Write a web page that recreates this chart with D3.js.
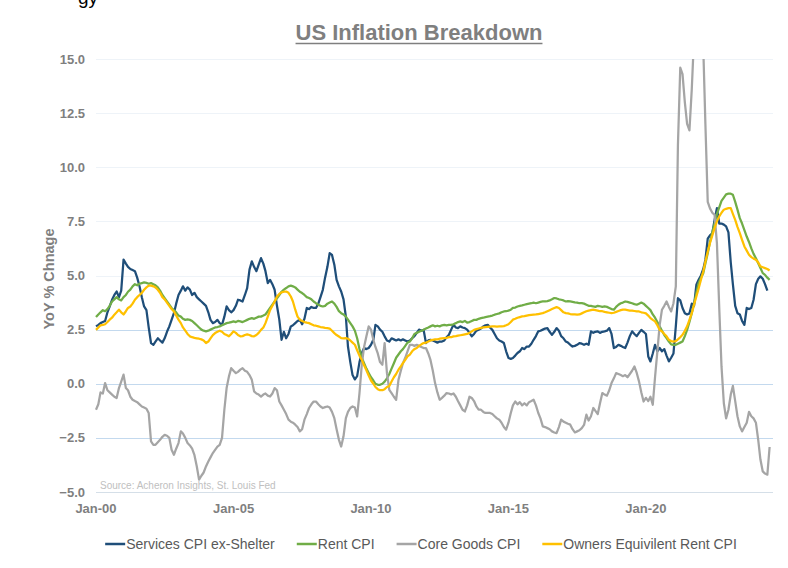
<!DOCTYPE html>
<html>
<head>
<meta charset="utf-8">
<script src="https://cdn.jsdelivr.net/npm/d3@7"></script>
<style>
  body { margin: 0; background: #fff; }
  svg { display: block; }
</style>
</head>
<body>
<div id="chart"></div>
<script>
// monthly YoY % change, Jan 2000 onward (one row per year)
var servicesExShelter = [
  2.65, 2.72, 2.8, 2.85, 2.9, 3.3, 3.57, 3.88, 4.1, 4.26, 4.0, 4.3,
  5.73, 5.55, 5.4, 5.3, 5.25, 5.2, 4.9, 4.5, 4.0, 3.57, 3.4, 2.6,
  1.88, 1.8, 1.95, 2.1, 2.0, 1.9, 2.1, 2.4, 2.65, 2.95, 3.26, 3.7,
  4.1, 4.3, 4.5, 4.3, 4.45, 4.35, 4.1, 4.2, 4.0, 3.9, 3.8, 3.7,
  3.6, 3.3, 2.95, 2.8, 2.85, 2.95, 2.8, 2.72, 3.1, 3.57, 3.4, 3.3,
  3.4, 3.6, 3.88, 3.85, 3.8, 4.1, 4.42, 5.27, 5.65, 5.4, 5.2, 5.5,
  5.8, 5.55, 5.2, 4.65, 4.8, 4.6, 4.34, 3.6, 2.96, 2.03, 2.4, 2.1,
  2.3, 2.65, 2.7, 2.8, 2.9, 2.96, 2.75, 3.0, 3.5, 3.45, 3.55, 3.5,
  3.5, 3.7, 4.0, 4.34, 4.9, 5.4, 6.03, 5.95, 5.5, 4.8, 4.5, 4.26,
  3.9, 3.1, 1.72, 1.0, 0.4, 0.2, 0.35, 1.0, 1.42, 1.65, 1.6, 1.65,
  1.8, 2.03, 2.72, 2.65, 2.5, 2.4, 2.19, 2.0, 1.95, 2.1, 2.05, 2.0,
  2.05, 2.0, 2.05, 2.0, 1.95, 2.0, 2.1, 2.2, 2.35, 2.5, 2.45, 2.49,
  1.88, 2.0, 2.03, 2.0, 1.95, 1.9, 1.95, 1.95, 2.0, 2.15, 2.26, 2.5,
  2.72, 2.6, 2.57, 2.65, 2.6, 2.57, 2.5, 2.35, 2.19, 2.3, 2.45, 2.5,
  2.55, 2.65, 2.7, 2.72, 2.6, 2.49, 2.3, 2.1, 2.0, 1.95, 1.88, 1.5,
  1.19, 1.15, 1.19, 1.3, 1.42, 1.5, 1.65, 1.6, 1.72, 1.72, 1.85, 2.03,
  2.2, 2.42, 2.45, 2.5, 2.55, 2.57, 2.4, 2.26, 2.4, 2.57, 2.45, 2.2,
  2.1, 1.95, 1.9, 1.8, 1.72, 1.75, 1.8, 1.88, 1.85, 1.8, 1.85, 1.8,
  2.42, 2.35, 2.4, 2.42, 2.35, 2.4, 2.42, 2.45, 2.57, 2.3, 1.65, 1.7,
  1.8, 1.75, 1.7, 1.65, 1.9, 2.2, 2.42, 2.3, 2.2, 2.35, 2.49, 2.4,
  2.3, 1.26, 1.03, 1.4, 1.8, 1.5, 1.65, 1.5, 1.6, 1.3, 1.03, 1.2,
  1.4, 2.65, 3.95, 3.85, 3.5, 3.26, 3.2, 3.25, 3.7, 3.6, 4.57, 4.8,
  5.0, 5.3, 5.73, 6.7, 6.85, 6.95, 7.57, 8.11, 7.4, 7.4, 7.35, 7.27,
  6.99, 5.6, 4.6, 3.6, 3.26, 3.2, 2.9, 2.72, 3.5, 3.45, 3.5, 3.88,
  4.6, 4.85, 4.96, 4.85, 4.6, 4.3
];

var rentCpi = [
  3.08, 3.2, 3.3, 3.4, 3.35, 3.45, 3.6, 3.8, 3.9, 4.0, 3.9, 3.85,
  4.0, 4.1, 4.25, 4.35, 4.5, 4.6, 4.55, 4.62, 4.65, 4.68, 4.66, 4.62,
  4.65, 4.6, 4.55, 4.45, 4.3, 4.1, 3.95, 3.8, 3.65, 3.5, 3.4, 3.3,
  3.15, 3.1, 3.0, 2.95, 2.97, 2.95, 2.9, 2.8, 2.7, 2.6, 2.5, 2.45,
  2.42, 2.45, 2.5, 2.55, 2.6, 2.62, 2.65, 2.7, 2.75, 2.8, 2.82, 2.85,
  2.88, 2.85, 2.9, 2.88, 2.85, 2.9, 2.95, 3.0, 3.03, 3.0, 3.05, 3.1,
  3.1, 3.15, 3.2, 3.35, 3.5, 3.65, 3.8, 3.95, 4.1, 4.25, 4.35, 4.42,
  4.5, 4.53, 4.5, 4.45, 4.35, 4.25, 4.19, 4.1, 4.0, 3.96, 3.9, 3.8,
  3.72, 3.65, 3.6, 3.57, 3.6, 3.7, 3.75, 3.8, 3.7, 3.55, 3.35, 3.26,
  3.2, 3.1, 2.96, 2.8, 2.65, 2.45, 2.1, 1.6, 1.2, 0.95, 0.7, 0.5,
  0.3, 0.15, 0.0, -0.05, -0.05, 0.0, 0.1, 0.25, 0.45, 0.7, 0.95, 1.2,
  1.35, 1.5, 1.6, 1.75, 1.9, 1.95, 2.1, 2.3, 2.35, 2.4, 2.45, 2.49,
  2.55, 2.6, 2.65, 2.7, 2.65, 2.68, 2.65, 2.7, 2.72, 2.7, 2.72, 2.72,
  2.75, 2.8, 2.85, 2.88, 2.85, 2.9, 2.82, 2.85, 2.9, 2.95, 2.95, 3.0,
  3.03, 3.05, 3.08, 3.1, 3.12, 3.15, 3.19, 3.22, 3.25, 3.3, 3.34, 3.35,
  3.38, 3.42, 3.5, 3.52, 3.57, 3.6, 3.62, 3.65, 3.68, 3.7, 3.72, 3.75,
  3.72, 3.75, 3.78, 3.8, 3.8, 3.82, 3.85, 3.9, 3.96, 3.94, 3.9, 3.88,
  3.85, 3.8, 3.82, 3.8, 3.78, 3.76, 3.75, 3.72, 3.72, 3.7, 3.65, 3.6,
  3.6, 3.57, 3.55, 3.6, 3.58, 3.55, 3.57, 3.55, 3.5, 3.45, 3.42, 3.55,
  3.65, 3.72, 3.75, 3.8, 3.78, 3.75, 3.72, 3.68, 3.65, 3.7, 3.75, 3.7,
  3.6, 3.5, 3.4, 3.2, 3.05, 2.85, 2.65, 2.45, 2.25, 2.11, 1.95, 1.82,
  1.8, 1.8, 1.85, 1.9, 1.95, 2.2, 2.49, 2.85, 3.26, 3.7, 4.19, 4.65,
  4.9, 5.11, 5.55, 6.03, 6.55, 7.0, 7.4, 7.85, 8.15, 8.45, 8.6, 8.75,
  8.78, 8.78, 8.73, 8.4, 8.04, 7.65, 7.4, 7.1, 6.8, 6.55, 6.25, 6.0,
  5.8, 5.57, 5.35, 5.11, 5.03, 4.9, 4.8
];

var coreGoodsCpi = [
  -1.2, -0.95, -0.4, -0.45, 0.03, -0.3, -0.4, -0.5, -0.6, -0.66, -0.2, 0.1,
  0.42, -0.2, -0.3, -0.6, -0.74, -0.8, -0.85, -0.95, -1.05, -1.1, -1.15, -1.35,
  -2.66, -2.82, -2.82, -2.7, -2.59, -2.45, -2.36, -2.4, -2.5, -3.05, -3.28, -3.0,
  -2.74, -2.2, -2.3, -2.5, -2.74, -2.85, -3.0, -3.3, -3.82, -4.43, -4.25, -4.1,
  -3.82, -3.59, -3.4, -3.2, -3.05, -2.9, -2.82, -2.5, -1.2, -0.2, 0.34, 0.72,
  0.6, 0.49, 0.55, 0.65, 0.72, 0.6, 0.55, 0.4, 0.18, -0.35, -0.45, -0.5,
  -0.59, -0.5, -0.45, -0.55, -0.59, -0.45, -0.2, -0.3, -0.82, -1.0, -1.2, -1.4,
  -1.66, -1.75, -1.8, -1.89, -2.0, -2.2, -2.1, -1.66, -1.4, -1.12, -0.95, -0.82,
  -0.82, -0.95, -1.05, -1.12, -1.08, -1.05, -1.1, -1.3, -1.59, -2.1, -2.59, -2.9,
  -2.43, -1.59, -1.3, -1.12, -1.05, -1.1, -1.51, -0.43, 0.9, 1.7, 2.19, 2.65,
  2.5, 2.03, 1.7, 1.4, 1.0, 0.88, 1.88, 0.49, -0.28, -0.43, -0.6, -0.74,
  0.18, 0.6, 0.95, 1.2, 1.5, 1.8, 1.8, 1.75, 1.8, 1.75, 1.7, 1.65,
  1.65, 1.4, 1.1, 0.6, 0.03, -0.4, -0.74, -0.65, -0.55, -0.43, -0.45, -0.5,
  -0.45, -0.6, -0.8, -1.0, -1.2, -1.28, -1.0, -0.6, -0.66, -0.8, -1.05, -1.2,
  -1.2, -1.3, -1.35, -1.35, -1.35, -1.4, -1.5, -1.6, -1.66, -1.8, -2.0, -2.12,
  -1.8, -1.35, -1.0, -0.82, -0.95, -0.85, -1.0, -0.9, -1.0, -0.85, -0.8, -0.74,
  -1.0, -1.35, -1.6, -1.97, -2.0, -2.05, -2.1, -2.2, -2.25, -2.28, -2.0, -1.66,
  -1.75, -1.8, -1.85, -1.89, -2.1, -2.25, -2.2, -2.15, -2.05, -1.9, -1.43, -1.7,
  -1.5, -1.12, -1.25, -1.4, -0.9, -0.43, -0.5, -0.55, -0.3, 0.03, 0.25, 0.49,
  0.45, 0.4, 0.35, 0.4, 0.3, 0.45, 0.6, 0.8, 0.5, 0.11, -0.4, -0.82,
  -0.65, -0.8, -0.6, -0.97, 0.3, 1.5, 2.7, 3.42, 3.6, 3.8, 3.55, 3.34,
  3.72, 4.5, 11.0, 14.6, 14.3, 13.0, 12.0, 11.7, 13.6, 16.0, 17.5, 18.0,
  17.5, 15.5, 12.0, 8.4, 8.1, 7.9, 7.8, 6.5, 3.5, 0.8, -0.9, -1.6,
  -1.2, -0.5, -0.1, -0.8, -1.5, -1.97, -2.2, -2.0, -1.8, -1.3, -1.5, -1.6,
  -1.8, -2.6, -3.5, -4.05, -4.15, -4.2, -2.92
];

var ownersEquivRent = [
  2.49, 2.6, 2.7, 2.72, 2.75, 2.85, 2.96, 3.05, 3.19, 3.3, 3.42, 3.3,
  3.2, 3.35, 3.5, 3.57, 3.7, 3.88, 4.0, 4.1, 4.2, 4.34, 4.45, 4.53,
  4.53, 4.5, 4.45, 4.34, 4.2, 4.0, 3.9, 3.75, 3.6, 3.45, 3.34, 3.15,
  2.96, 2.8, 2.6, 2.45, 2.3, 2.19, 2.15, 2.12, 2.1, 2.08, 2.05, 2.0,
  1.88, 1.95, 2.1, 2.25, 2.34, 2.4, 2.45, 2.4, 2.3, 2.25, 2.19, 2.3,
  2.42, 2.35, 2.25, 2.19, 2.2, 2.25, 2.28, 2.25, 2.2, 2.19, 2.25, 2.35,
  2.49, 2.6, 2.8, 3.1, 3.4, 3.6, 3.8, 4.03, 4.15, 4.22, 4.25, 4.26,
  4.2, 4.03, 3.8, 3.42, 3.1, 2.96, 2.9, 2.85, 2.82, 2.8, 2.75, 2.7,
  2.68, 2.65, 2.62, 2.6, 2.58, 2.57, 2.55, 2.45, 2.34, 2.25, 2.18, 2.11,
  2.1, 2.11, 2.08, 2.0, 1.9, 1.8, 1.55, 1.3, 1.1, 0.85, 0.62, 0.38,
  0.15, 0.0, -0.15, -0.25, -0.3, -0.3, -0.25, -0.15, -0.1, 0.1, 0.3, 0.45,
  0.65, 0.8, 0.95, 1.1, 1.26, 1.35, 1.5, 1.6, 1.65, 1.75, 1.82, 1.88,
  1.9, 1.95, 2.0, 2.03, 2.05, 2.05, 2.08, 2.1, 2.11, 2.12, 2.15, 2.15,
  2.19, 2.2, 2.22, 2.24, 2.26, 2.28, 2.3, 2.35, 2.42, 2.49, 2.52, 2.55,
  2.58, 2.6, 2.62, 2.63, 2.64, 2.65, 2.65, 2.64, 2.65, 2.65, 2.66, 2.7,
  2.75, 2.85, 2.96, 3.0, 3.05, 3.08, 3.11, 3.12, 3.15, 3.17, 3.18, 3.19,
  3.2, 3.22, 3.24, 3.26, 3.3, 3.35, 3.4, 3.45, 3.5, 3.54, 3.5, 3.4,
  3.3, 3.26, 3.25, 3.22, 3.2, 3.2, 3.19, 3.2, 3.25, 3.3, 3.35, 3.38,
  3.4, 3.42, 3.4, 3.38, 3.35, 3.35, 3.32, 3.3, 3.28, 3.26, 3.28, 3.32,
  3.36, 3.4, 3.42, 3.42, 3.4, 3.38, 3.38, 3.36, 3.34, 3.34, 3.3, 3.28,
  3.25, 3.15, 3.03, 2.95, 2.88, 2.7, 2.49, 2.42, 2.3, 2.19, 2.03, 1.97,
  1.95, 1.97, 2.05, 2.15, 2.26, 2.45, 2.65, 2.95, 3.26, 3.65, 4.03, 4.4,
  4.8, 5.2, 5.65, 6.1, 6.5, 6.85, 7.19, 7.5, 7.73, 7.9, 8.04, 8.08,
  8.11, 8.11, 7.85, 7.57, 7.25, 6.96, 6.65, 6.34, 6.15, 5.96, 5.85, 5.78,
  5.73, 5.6, 5.42, 5.38, 5.34, 5.3, 5.23
];

var seriesNames = ['Services CPI ex-Shelter', 'Rent CPI', 'Core Goods CPI', 'Owners Equivilent Rent CPI'];
var seriesColors = ['#1f4e79', '#70ad47', '#a5a5a5', '#ffc000'];
var yTicks = [-5, -2.5, 0, 2.5, 5, 7.5, 10, 12.5, 15];
var xTickYears = [2000, 2005, 2010, 2015, 2020];

var width = 788, height = 568;
var narrow = '"Liberation Sans Narrow", "Arial Narrow", "Liberation Sans", Arial, sans-serif';
var sans = '"Liberation Sans", Arial, sans-serif';

var svg = d3.select('#chart').append('svg')
  .attr('width', width)
  .attr('height', height);

svg.append('rect').attr('width', width).attr('height', height).attr('fill', '#ffffff');

// cut-off text from the page above
svg.append('text')
  .attr('x', 78).attr('y', 4)
  .attr('font-family', sans).attr('font-size', 19)
  .attr('fill', '#000')
  .text('gy');

var x = d3.scaleTime()
  .domain([new Date(2000, 0, 1), new Date(2024, 7, 15)])
  .range([96, 773]);
var y = d3.scaleLinear().domain([-5, 15]).range([492, 59]);

function monthDate(i) { return new Date(2000, i, 1); }

// gridlines
svg.append('g').selectAll('line').data(yTicks).enter().append('line')
  .attr('x1', 96).attr('x2', 773)
  .attr('y1', function(d) { return Math.round(y(d)) + 0.5; })
  .attr('y2', function(d) { return Math.round(y(d)) + 0.5; })
  .attr('stroke', function(d) {
    if (d == -5) return '#d5dfe8';
    return d <= 2.5 ? '#c3d9ee' : '#eef3f8';
  })
  .attr('stroke-width', 1);

// y labels
svg.append('g').selectAll('text').data(yTicks).enter().append('text')
  .attr('x', 85)
  .attr('y', function(d) { return y(d); })
  .attr('dy', '0.35em')
  .attr('text-anchor', 'end')
  .attr('font-family', sans).attr('font-size', 13).attr('font-weight', 'bold')
  .attr('fill', '#7f7f7f')
  .text(function(d) { return d3.format('.1f')(d); });

// x labels
svg.append('g').selectAll('text').data(xTickYears).enter().append('text')
  .attr('x', function(d) { return x(new Date(d, 0, 1)); })
  .attr('y', 513)
  .attr('text-anchor', 'middle')
  .attr('font-family', sans).attr('font-size', 13).attr('font-weight', 'bold')
  .attr('fill', '#7f7f7f')
  .text(function(d) { return d3.timeFormat('%b-%y')(new Date(d, 0, 1)); });

// y axis title
svg.append('text')
  .attr('transform', 'translate(54,279) rotate(-90)')
  .attr('text-anchor', 'middle')
  .attr('font-family', sans).attr('font-size', 14.5).attr('font-weight', 'bold')
  .attr('fill', '#7f7f7f')
  .text('YoY % Chnage');

// title
var title = svg.append('text')
  .attr('x', 419).attr('y', 40)
  .attr('text-anchor', 'middle')
  .attr('font-family', narrow).attr('font-size', 22).attr('font-weight', 'bold')
  .attr('fill', '#7f7f7f')
  .text('US Inflation Breakdown');
var tb = title.node().getBBox();
svg.append('line')
  .attr('x1', tb.x).attr('x2', tb.x + tb.width)
  .attr('y1', 43.5).attr('y2', 43.5)
  .attr('stroke', '#7f7f7f').attr('stroke-width', 1.5);

// source
svg.append('text')
  .attr('x', 100).attr('y', 489)
  .attr('font-family', narrow).attr('font-size', 10)
  .attr('fill', '#c0c0c0')
  .text('Source: Acheron Insights, St. Louis Fed');

// lines
svg.append('clipPath').attr('id', 'plotclip')
  .append('rect').attr('x', 90).attr('y', 59).attr('width', 690).attr('height', 440);

var line = d3.line()
  .x(function(d, i) { return x(monthDate(i)); })
  .y(function(d) { return y(d); });

var allSeries = [servicesExShelter, rentCpi, coreGoodsCpi, ownersEquivRent];
svg.append('g').attr('clip-path', 'url(#plotclip)')
  .selectAll('path').data(allSeries).enter().append('path')
  .attr('d', line)
  .attr('fill', 'none')
  .attr('stroke', function(d, i) { return seriesColors[i]; })
  .attr('stroke-width', 2.25)
  .attr('stroke-linejoin', 'round');

// legend
var legend = svg.append('g');
var lx = 0;
seriesNames.forEach(function(name, i) {
  var item = legend.append('g').attr('transform', 'translate(' + lx + ',0)');
  item.append('line')
    .attr('x1', 0).attr('x2', 20).attr('y1', 0).attr('y2', 0)
    .attr('stroke', seriesColors[i]).attr('stroke-width', 2.5);
  var t = item.append('text')
    .attr('x', 21).attr('y', 0).attr('dy', '0.35em')
    .attr('font-family', narrow).attr('font-size', 14)
    .attr('fill', '#595959')
    .text(name);
  lx += 21 + t.node().getComputedTextLength() + 22;
});
lx -= 22;
legend.attr('transform', 'translate(' + (421 - lx / 2) + ',544)');
</script>
</body>
</html>
